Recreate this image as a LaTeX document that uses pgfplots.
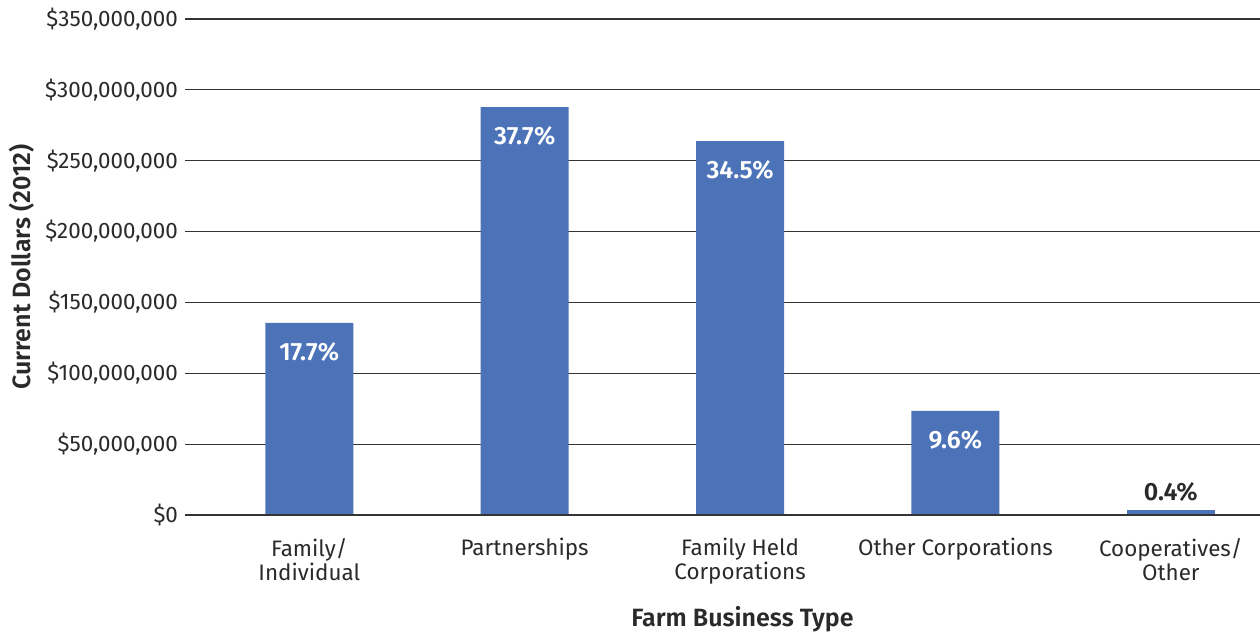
\documentclass[border=0pt]{standalone}
\usepackage{pgfplots}
\pgfplotsset{compat=1.18}
\usepackage{fontspec}
\setmainfont{Fira Sans}[BoldFont={Fira Sans SemiBold}]
\definecolor{barblue}{HTML}{4C72B8}
\definecolor{txt}{HTML}{2A2A2A}
\begin{document}
\begin{tikzpicture}[x=1pt,y=1pt]
\useasboundingbox (-92.5pt,-58.5pt) rectangle (537.5pt,257.5pt);
\begin{axis}[
  at={(0pt,0pt)}, anchor=south west,
  scale only axis, width=537.5pt, height=248pt,
  ybar, bar width=44pt, bar shift=0pt,
  xmin=-0.577, xmax=4.414, ymin=0, ymax=350,
  axis line style={draw=none},
  axis x line*=bottom,
  xtick={0,1,2,3,4},
  xticklabels={{Family/\\Individual},Partnerships,{Family Held\\Corporations},Other Corporations,{Cooperatives/\\Other}},
  xticklabel style={align=center, font=\fontsize{11.2}{12.2}\selectfont, text=txt, anchor=north, yshift=-8pt},
  ytick={0,50,100,150,200,250,300,350},
  yticklabels={\$0,{\$50,000,000},{\$100,000,000},{\$150,000,000},{\$200,000,000},{\$250,000,000},{\$300,000,000},{\$350,000,000}},
  yticklabel style={font=\fontsize{11.2}{12}\selectfont, text=txt},
  major tick length=0pt,
  ymajorgrids, grid style={draw=black!80, line width=0.6pt},
  ylabel={\textbf{Current Dollars (2012)}},
  ylabel style={font=\fontsize{12.5}{14}\selectfont, text=txt, at={(axis description cs:0,0.5)}, yshift=81.5pt, anchor=center},
  xlabel={\textbf{Farm Business Type}},
  xlabel style={font=\fontsize{12.5}{14}\selectfont, text=txt, at={(axis description cs:0.5,0)}, yshift=-52pt, xshift=10pt, anchor=center},
  nodes near coords, point meta=explicit symbolic,
  clip=false,
]
\addplot[fill=barblue, draw=none, nodes near coords style={anchor=center, yshift=-14.5pt, text=white, font=\bfseries\fontsize{12.5}{14}\selectfont}]
  coordinates {(0,135.5) [17.7\%] (1,287.9) [37.7\%] (2,263.9) [34.5\%] (3,73.4) [9.6\%]};
\addplot[fill=barblue, draw=none, nodes near coords style={anchor=center, yshift=9pt, text=txt, font=\bfseries\fontsize{12.5}{14}\selectfont}]
  coordinates {(4,3.3) [0.4\%]};
\draw[black!80, line width=0.6pt] (axis cs:-0.577,0) -- (axis cs:4.414,0);
\end{axis}
\end{tikzpicture}
\end{document}
